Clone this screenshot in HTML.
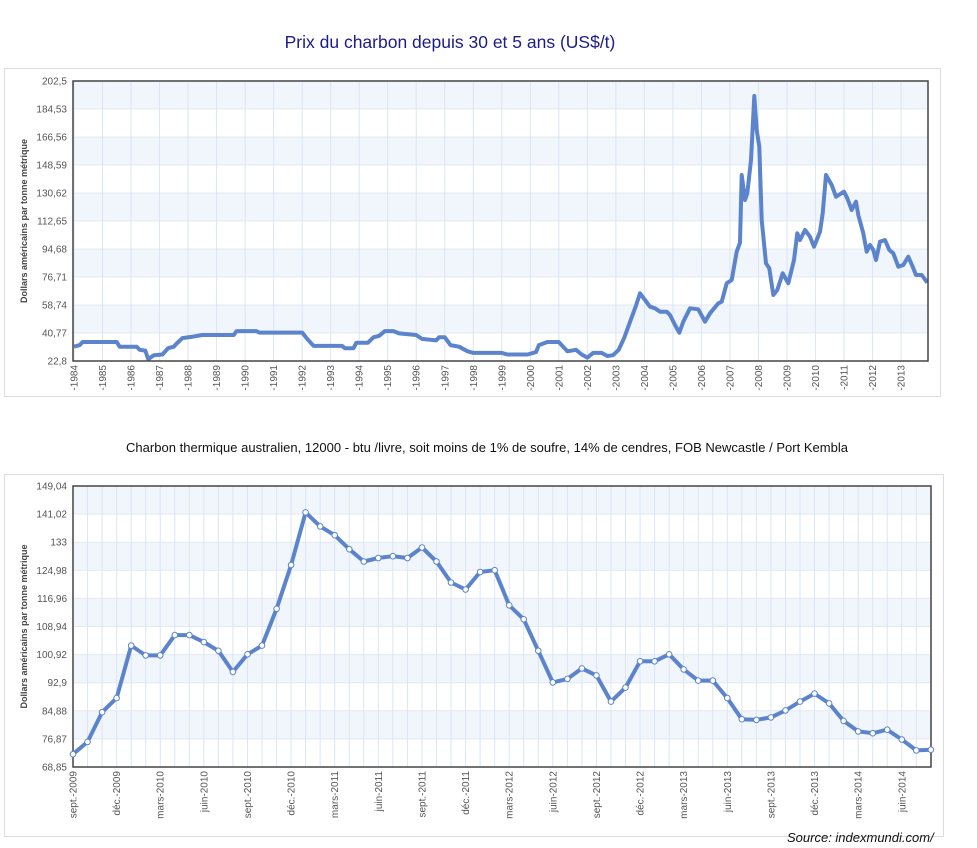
<!DOCTYPE html>
<html><head><meta charset="utf-8"><style>
body{margin:0;background:#fff;width:977px;height:848px;overflow:hidden;font-family:"Liberation Sans",sans-serif}
svg{position:absolute;left:0;top:0}
</style></head><body>
<svg id="s" width="977" height="848" xmlns="http://www.w3.org/2000/svg" font-family="Liberation Sans, sans-serif">
<text x="450" y="48" text-anchor="middle" font-size="17.5" fill="#1c1c8a">Prix du charbon depuis 30 et 5 ans (US$/t)</text>
<text x="487" y="452" text-anchor="middle" font-size="13" fill="#111" textLength="722">Charbon thermique australien, 12000 - btu /livre, soit moins de 1% de soufre, 14% de cendres, FOB Newcastle / Port Kembla</text>
<rect x="4.5" y="68.5" width="936" height="328" fill="none" stroke="#ddd"/>
<rect x="4.5" y="474.5" width="939" height="362" fill="none" stroke="#ddd"/>
<g id="g"></g>
<text x="787" y="842" font-size="13" font-style="italic" fill="#111">Source: indexmundi.com/</text>
</svg>
<script>
var g=document.getElementById('g'),h='';
function chart(L,T,R,B,labels,vlines,xl,title){
 var n=labels.length-1,step=(B-T)/n;
 for(var i=0;i<n;i++){ if(i%2==0) h+='<rect x="'+L+'" y="'+(T+i*step)+'" width="'+(R-L)+'" height="'+step+'" fill="#f1f5fc"/>';}
 for(var i=0;i<=n;i++){var y=T+i*step;h+='<line x1="'+L+'" x2="'+R+'" y1="'+y+'" y2="'+y+'" stroke="#e3e9f3"/>';
  h+='<text x="67" y="'+(y+3.5)+'" text-anchor="end" font-size="10" fill="#555">'+labels[i]+'</text>';}
 vlines.forEach(function(x){h+='<line x1="'+x+'" x2="'+x+'" y1="'+T+'" y2="'+B+'" stroke="#dbe5f3"/>';});
 xl.forEach(function(a){h+='<text transform="translate('+(a[0]+3.5)+','+(B+4)+') rotate(-90)" text-anchor="end" font-size="10" fill="#555">'+a[1]+'</text>';});
 h+='<text transform="translate(27,'+((T+B)/2)+') rotate(-90)" text-anchor="middle" font-size="9" font-weight="bold" fill="#444">Dollars américains par tonne métrique</text>';
}
var yl1=['202,5','184,53','166,56','148,59','130,62','112,65','94,68','76,71','58,74','40,77','22,8'];
var vl=[],xl=[];
for(var y=1984;y<=2013;y++){var x=74+(y-1984)*28.52;vl.push(x);xl.push([x,'-'+y]);}
chart(73,81,928,361,yl1,vl,xl);
function Y1(v){return 361-(v-22.8)*280/179.7}
function X1(y){return 74+(y-1984)*28.52}
var d1=[[1984,32],[1984.2,33],[1984.3,35],[1985.5,35],[1985.6,32],[1986.2,32],[1986.3,30],[1986.5,29.5],[1986.6,24],[1986.8,26.5],[1987.1,27],[1987.3,31],[1987.5,32],[1987.6,34],[1987.8,37.5],[1988.2,38.5],[1988.5,39.5],[1989.6,39.5],[1989.7,42],[1990.4,42],[1990.5,41],[1992,41],[1992.2,36.5],[1992.4,32.5],[1993.4,32.5],[1993.5,31],[1993.8,31],[1993.9,34.5],[1994.3,34.5],[1994.5,38],[1994.7,39],[1994.9,42],[1995.2,42],[1995.4,40.5],[1996,39.5],[1996.2,37],[1996.7,36],[1996.8,38],[1997,38],[1997.2,33],[1997.5,32],[1997.8,29],[1998,28],[1999,28],[1999.2,27],[1999.9,27],[2000.2,28.5],[2000.3,33],[2000.6,35],[2001,35],[2001.2,31],[2001.3,29],[2001.6,30],[2001.8,27],[2002,25],[2002.2,28],[2002.5,28],[2002.7,26],[2002.9,26.5],[2003.1,30],[2003.3,38],[2003.5,48],[2003.7,58]];
var pts=d1.map(function(p){return X1(p[0]).toFixed(1)+','+Y1(p[1]).toFixed(1)});
var z=[[0,700],[15,720],[30,740],[45,745],[60,755],[80,755],[90,765],[105,795],[118,818],[130,785],[150,745],[175,748],[195,785],[210,760],[235,730],[245,725],[260,670],[275,660],[290,575],[300,548],[305,345],[315,420],[322,400],[333,300],[343,108],[350,210],[358,260],[365,480],[378,610],[388,625],[400,705],[412,690],[428,640],[445,670],[462,600],[472,520],[480,540],[495,510],[510,530],[522,560],[540,515],[548,460],[558,345],[575,375],[588,410],[612,395],[622,415],[635,450],[648,425],[655,465],[670,520],[680,575],[690,555],[700,570],[708,600],[720,545],[735,540],[748,570],[760,580],[775,620],[790,615],[805,590],[818,620],[828,645],[845,645],[862,668]];
z.forEach(function(p){pts.push((640+p[0]/3).toFixed(1)+','+(60+p[1]/3).toFixed(1))});
h+='<polyline points="'+pts.join(' ')+'" fill="none" stroke="#5b84cc" stroke-width="4" stroke-linejoin="round"/>';
h+='<rect x="73" y="81" width="855" height="280" fill="none" stroke="#444" stroke-width="1.5"/>';
var yl2=['149,04','141,02','133','124,98','116,96','108,94','100,92','92,9','84,88','76,87','68,85'];
var mn=['sept.','déc.','mars','juin'];vl=[];xl=[];
var ms=14.54;
for(var i=0;i<60;i++){var x=73+i*ms;vl.push(x);if(i%3==0){var k=(i/3)%4;var yr=2009+Math.floor((i+8)/12);xl.push([x,mn[k]+'-'+yr]);}}
chart(73,486,931,767,yl2,vl,xl);
var d2=[72.5,76,84.5,88.5,103.5,100.7,100.7,106.5,106.5,104.5,102,96,101,103.5,114,126.5,141.5,137.5,135,131,127.5,128.5,129,128.5,131.5,127.5,121.5,119.5,124.5,125,115,111,102,93,94,97,95,87.5,91.5,99,99,101,96.7,93.5,93.5,88.5,82.5,82.3,83,85,87.5,89.8,87,82,79,78.5,79.5,76.7,73.6,73.8];
function Y2(v){return 767-(v-68.85)*281/80.19}
var p2=d2.map(function(v,i){return (73+i*ms).toFixed(1)+','+Y2(v).toFixed(1)});
h+='<polyline points="'+p2.join(' ')+'" fill="none" stroke="#5b84cc" stroke-width="4" stroke-linejoin="round"/>';
h+='<rect x="73" y="486" width="858" height="281" fill="none" stroke="#444" stroke-width="1.5"/>';
d2.forEach(function(v,i){h+='<circle cx="'+(73+i*ms).toFixed(1)+'" cy="'+Y2(v).toFixed(1)+'" r="2.8" fill="#fff" stroke="#5b84cc" stroke-width="1"/>';});
g.innerHTML=h;
</script>
</body></html>
